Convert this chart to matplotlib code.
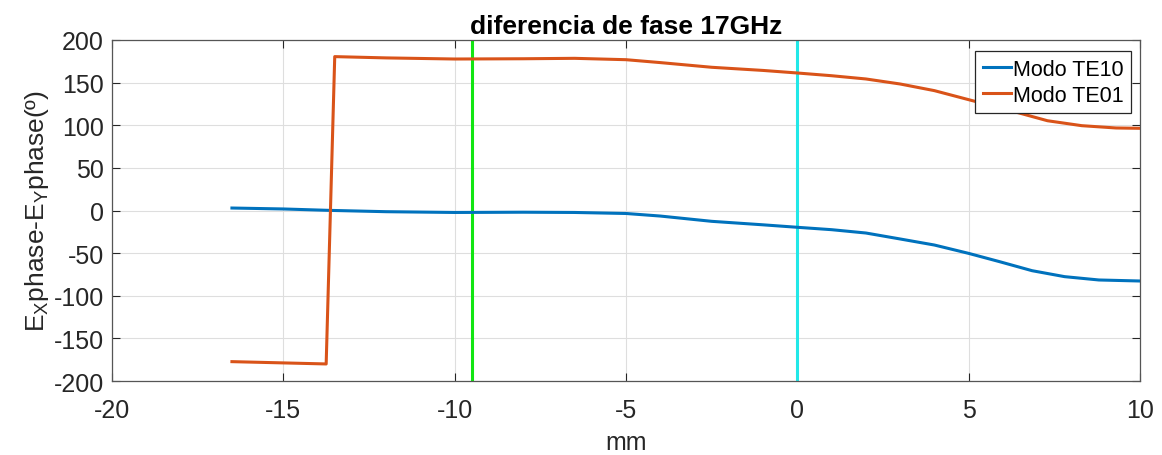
import matplotlib
matplotlib.use("Agg")
import matplotlib.pyplot as plt

plt.rcParams['font.family'] = ['Liberation Sans', 'DejaVu Sans']
plt.rcParams['mathtext.fontset'] = 'custom'
plt.rcParams['mathtext.rm'] = 'Liberation Sans'
plt.rcParams['mathtext.it'] = 'Liberation Sans:italic'
plt.rcParams['axes.unicode_minus'] = False

title = "diferencia de fase 17GHz"
xlabel = "mm"
ylabel = r"E$_\mathrm{X}$phase-E$_\mathrm{Y}$phase(º)"
series_names = ["Modo TE10", "Modo TE01"]

x_te10 = [-16.5, -15, -13.7, -12, -10, -8, -6.5, -5, -4, -2.5, -1, 0, 1, 2, 3, 4,
          5, 5.9, 6.85, 7.8, 8.8, 10]
y_te10 = [2.9, 1.8, 0.2, -1.4, -2.3, -2.0, -2.3, -3.5, -6.5, -12.7, -16.8, -19.7,
          -22.5, -26.4, -33.4, -40.5, -50.3, -60, -70.6, -77.6, -81.5, -82.7]

x_te01 = [-16.5, -13.75, -13.5, -12, -10, -8, -6.5, -5, -4, -2.5, -1, 0, 1, 2, 3,
          4, 5, 6.4, 7.3, 8.3, 9.3, 10]
y_te01 = [-177.3, -180, 180.5, 179, 177.7, 178, 178.5, 176.9, 173.5, 168, 164.3,
          161.3, 158.1, 154.3, 148.4, 140.6, 130, 115.2, 105.3, 99.5, 96.8, 96.4]

vlines_x = [-9.5, 0]
vlines_c = ['#12e612', '#22e8e8']

xticks = [-20, -15, -10, -5, 0, 5, 10]
yticks = [-200, -150, -100, -50, 0, 50, 100, 150, 200]

fig = plt.figure(figsize=(11.62, 4.56), dpi=100)
ax = fig.add_axes([112/1162, 1-382/456, (1140-112)/1162, (382-41)/456])

ax.plot(x_te10, y_te10, color='#0072BD', lw=2.2, label=series_names[0], zorder=3)
ax.plot(x_te01, y_te01, color='#D95319', lw=2.2, label=series_names[1], zorder=3)
for xv, c in zip(vlines_x, vlines_c):
    ax.axvline(xv, color=c, lw=2.2, zorder=2)

ax.set_xlim(-20, 10)
ax.set_ylim(-200, 200)
ax.set_xticks(xticks)
ax.set_yticks(yticks)
ax.grid(True, color='#dedede', lw=0.8, zorder=0)
ax.set_axisbelow(True)
ax.tick_params(direction='in', top=True, right=True, length=6, width=0.8,
               labelsize=18, colors='#262626')
ax.tick_params(axis='x', pad=12)
ax.tick_params(axis='y', pad=6)
for s in ax.spines.values():
    s.set_color('#555555')
    s.set_linewidth(0.9)

ax.set_title(title, fontsize=19, fontweight='bold', pad=5)
ax.set_xlabel(xlabel, fontsize=18, color='#262626', labelpad=6)
ax.set_ylabel(ylabel, fontsize=19, color='#262626', labelpad=2)

leg = ax.legend(loc='upper right', bbox_to_anchor=(1 - 9/1028, 1 - 11/341),
                fontsize=15.5, handlelength=1.3, handletextpad=0.1,
                borderpad=0.35, labelspacing=0.25, borderaxespad=0,
                fancybox=False, framealpha=1)
leg.get_frame().set_edgecolor('#262626')
leg.get_frame().set_linewidth(0.9)

fig.savefig('out.png', dpi=100)
